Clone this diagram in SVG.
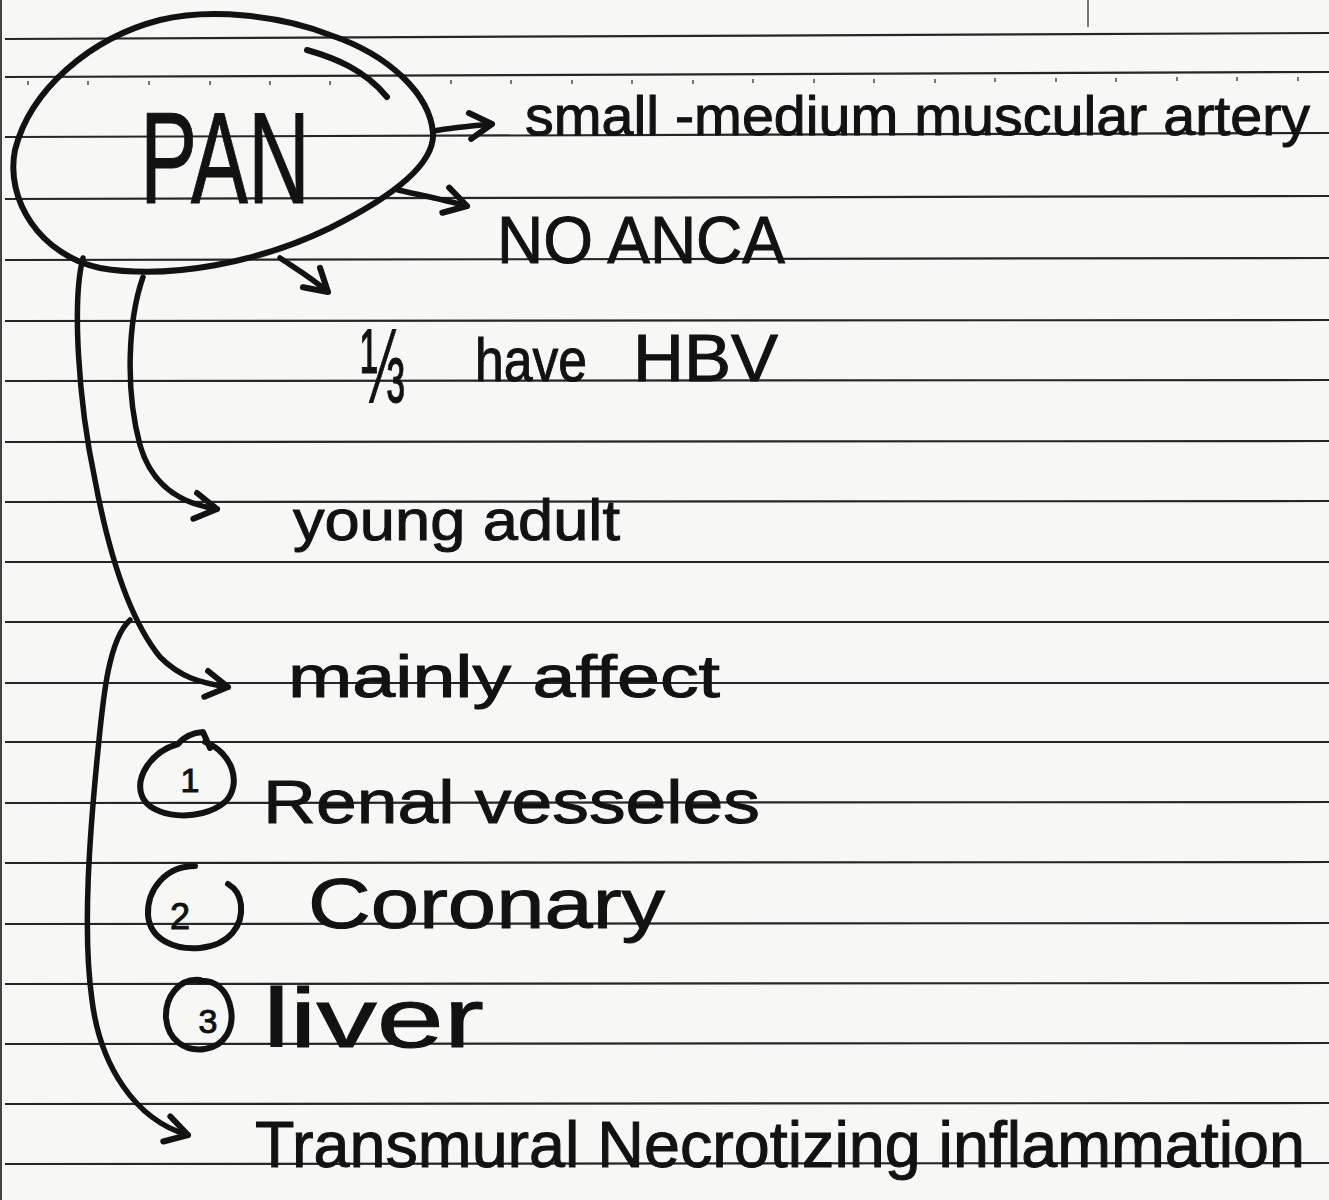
<svg xmlns="http://www.w3.org/2000/svg" width="1329" height="1200" viewBox="0 0 1329 1200">
<style>
.rule{stroke:#262626;stroke-width:2.2;fill:none}
.tick{stroke:#555;stroke-width:1.6}
.ink{stroke:#121212;stroke-width:6;fill:none;stroke-linecap:round;stroke-linejoin:round}
.con{stroke:#121212;stroke-width:5.5;fill:none;stroke-linecap:round;stroke-linejoin:round}
.t{font-family:"Liberation Sans",Arial,sans-serif;fill:#121212;stroke:#121212;stroke-width:1}
</style>
<defs>
<marker id="chev" markerUnits="userSpaceOnUse" markerWidth="34" markerHeight="34" viewBox="0 0 34 34" refX="30" refY="17" orient="auto" overflow="visible">
<path d="M8,4 L30,17 L8,30" fill="none" stroke="#121212" stroke-width="6" stroke-linecap="round" stroke-linejoin="round"/>
</marker>
</defs>
<rect x="0" y="0" width="1329" height="1200" fill="#f7f7f5"/>
<g id="paper">
<line x1="1" y1="0" x2="1" y2="1200" stroke="#444" stroke-width="2"/>
<line x1="1088" y1="0" x2="1088" y2="27" stroke="#555" stroke-width="1.6"/>
<line class="rule" x1="5" y1="39" x2="1329" y2="33"/>
<line class="rule" x1="5" y1="77" x2="1329" y2="72"/>
<line class="rule" x1="5" y1="137" x2="1329" y2="133"/>
<line class="rule" x1="5" y1="199" x2="1329" y2="196"/>
<line class="rule" x1="5" y1="260" x2="1329" y2="258"/>
<line class="rule" x1="5" y1="321" x2="1329" y2="320"/>
<line class="rule" x1="5" y1="381" x2="1329" y2="380"/>
<line class="rule" x1="5" y1="442" x2="1329" y2="441"/>
<line class="rule" x1="5" y1="502" x2="1329" y2="501"/>
<line class="rule" x1="5" y1="562" x2="1329" y2="562"/>
<line class="rule" x1="5" y1="622" x2="1329" y2="622"/>
<line class="rule" x1="5" y1="683" x2="1329" y2="683"/>
<line class="rule" x1="5" y1="742" x2="1329" y2="742"/>
<line class="rule" x1="5" y1="803" x2="1329" y2="802"/>
<line class="rule" x1="5" y1="863" x2="1329" y2="862"/>
<line class="rule" x1="5" y1="924" x2="1329" y2="923"/>
<line class="rule" x1="5" y1="984" x2="1329" y2="983"/>
<line class="rule" x1="5" y1="1044" x2="1329" y2="1043"/>
<line class="rule" x1="5" y1="1104" x2="1329" y2="1103"/>
<line class="rule" x1="5" y1="1164" x2="1329" y2="1163"/>
<g class="tick">
<line x1="28" y1="81" x2="28" y2="85"/><line x1="88" y1="81" x2="88" y2="85"/><line x1="149" y1="81" x2="149" y2="85"/><line x1="210" y1="81" x2="210" y2="85"/><line x1="270" y1="81" x2="270" y2="85"/><line x1="330" y1="81" x2="330" y2="85"/><line x1="451" y1="80" x2="451" y2="84"/><line x1="511" y1="80" x2="511" y2="84"/><line x1="572" y1="80" x2="572" y2="84"/><line x1="632" y1="80" x2="632" y2="84"/><line x1="693" y1="80" x2="693" y2="84"/><line x1="753" y1="79" x2="753" y2="83"/><line x1="814" y1="79" x2="814" y2="83"/><line x1="874" y1="79" x2="874" y2="83"/><line x1="935" y1="79" x2="935" y2="83"/><line x1="995" y1="78" x2="995" y2="82"/><line x1="1056" y1="78" x2="1056" y2="82"/><line x1="1116" y1="78" x2="1116" y2="82"/><line x1="1177" y1="77" x2="1177" y2="81"/><line x1="1237" y1="77" x2="1237" y2="81"/><line x1="1298" y1="77" x2="1298" y2="81"/>
</g>
</g>
<g id="pan">
<path class="ink" d="M433,133 C430,95 390,55 330,35 C280,15 210,8 160,20 C90,38 30,90 15,150 C5,200 40,255 100,268 C170,280 260,262 330,228 C390,198 435,165 433,133 Z"/>
<path class="ink" d="M307,50 C335,58 365,70 387,97"/>
<text class="t" x="140" y="203" font-size="130" textLength="170" lengthAdjust="spacingAndGlyphs">PAN</text>
</g>
<g id="connectors">
<path class="con" d="M433,131 C450,128 470,126 492,124" marker-end="url(#chev)"/>
<path class="con" d="M398,190 C420,195 445,200 467,206" marker-end="url(#chev)"/>
<path class="con" d="M280,258 C295,268 312,278 328,292" marker-end="url(#chev)"/>
<path class="con" d="M143,277 C128,320 125,390 140,445 C150,480 175,503 217,509" marker-end="url(#chev)"/>
<path class="con" d="M83,258 C72,300 78,400 95,480 C110,560 130,620 160,657 C180,677 200,683 228,687" marker-end="url(#chev)"/>
<path class="con" d="M130,620 C108,640 103,700 98,750 C90,830 82,930 92,1000 C100,1065 135,1120 188,1135" marker-end="url(#chev)"/>
</g>
<g id="artery">
<text class="t" x="525" y="135" font-size="56" textLength="785" lengthAdjust="spacingAndGlyphs">small -medium muscular artery</text>
</g>
<g id="anca">
<text class="t" x="497" y="263" font-size="66" textLength="288" lengthAdjust="spacingAndGlyphs">NO ANCA</text>
</g>
<g id="hbv">
<text class="t" x="360" y="402" font-size="105" textLength="45" lengthAdjust="spacingAndGlyphs">⅓</text>
<text class="t" x="475" y="381" font-size="62" textLength="112" lengthAdjust="spacingAndGlyphs">have</text>
<text class="t" x="633" y="381" font-size="66" textLength="145" lengthAdjust="spacingAndGlyphs">HBV</text>
</g>
<g id="young">
<text class="t" x="293" y="540" font-size="58" textLength="327" lengthAdjust="spacingAndGlyphs">young adult</text>
</g>
<g id="mainly">
<text class="t" x="288" y="697" font-size="60" textLength="432" lengthAdjust="spacingAndGlyphs">mainly affect</text>
</g>
<g id="renal">
<path class="ink" d="M210,748 L203,732 C190,733 183,738 178,744 C150,752 135,778 142,796 C150,818 200,823 225,802 C243,784 232,752 205,742"/>
<text class="t" x="190" y="792" font-size="34" text-anchor="middle">1</text>
<text class="t" x="263" y="823" font-size="62" textLength="497" lengthAdjust="spacingAndGlyphs">Renal vesseles</text>
</g>
<g id="coronary">
<path class="ink" d="M195,866 C165,866 147,890 148,915 C150,940 175,950 200,948 C230,945 243,925 241,905 C240,895 235,888 228,884"/>
<text class="t" x="180" y="929" font-size="36" text-anchor="middle">2</text>
<text class="t" x="308" y="928" font-size="70" textLength="357" lengthAdjust="spacingAndGlyphs">Coronary</text>
</g>
<g id="liver">
<path class="ink" d="M200,980 C178,978 165,998 166,1018 C168,1040 185,1052 205,1049 C225,1046 234,1028 231,1010 C228,990 215,979 198,981"/>
<text class="t" x="208" y="1033" font-size="34" text-anchor="middle">3</text>
<text class="t" x="263" y="1047" font-size="84" textLength="221" lengthAdjust="spacingAndGlyphs">liver</text>
</g>
<g id="transmural">
<text class="t" x="255" y="1167" font-size="64" textLength="1050" lengthAdjust="spacingAndGlyphs">Transmural Necrotizing inflammation</text>
</g>
</svg>
